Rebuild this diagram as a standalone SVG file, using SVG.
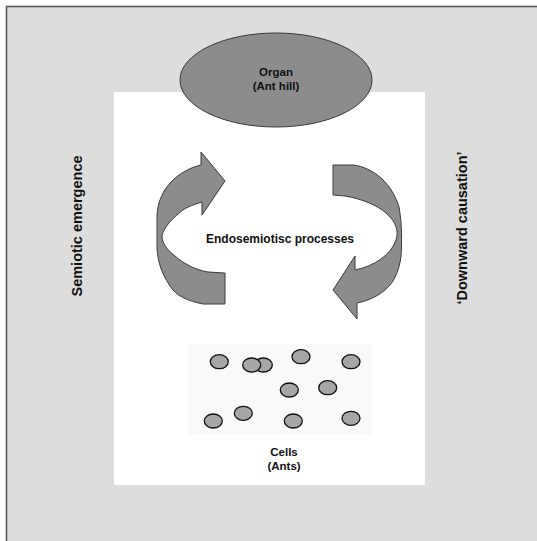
<svg xmlns="http://www.w3.org/2000/svg" width="537" height="541" viewBox="0 0 537 541">
<style>
.lbl{font-family:"Liberation Sans",Arial,sans-serif;font-weight:bold;fill:#111;text-anchor:middle}
.arrow{fill:#8c8c8c;stroke:#3a3a3a;stroke-width:1;stroke-linejoin:round}
.cell{fill:#a6a6a6;stroke:#111;stroke-width:1.3}
</style>
<g id="background">
<rect x="6.5" y="6.5" width="545" height="550" fill="#dcdddc" stroke="#5a5a5a" stroke-width="1.6"/>
<rect x="114" y="92" width="311" height="393" fill="#ffffff"/>
<rect x="188" y="344" width="184" height="91" fill="#f9f9f9"/>
</g>
<g id="organ">
<ellipse cx="276" cy="80" rx="96" ry="47" fill="#8c8c8c" stroke="#3a3a3a" stroke-width="1"/>
<text class="lbl" x="276" y="76" font-size="11.5">Organ</text>
<text class="lbl" x="276" y="90" font-size="11.5">(Ant hill)</text>
</g>
<g id="connectors">
<path id="emergence-arrow" class="arrow" d="M225,304 L203,304 C188,301 176,296 170,286 C160,271 157,258 157,245 L157,215 C158,201 163,190 172,181 C181,172 192,167 201,165 L201,152 L225,181 L202,215 L202,202 C192,205 184,208 178,214 C170,221 163,229 162,236 C162,243 167,250 175,256 C184,264 196,270 208,272 L225,273 Z"/>
<path id="causation-arrow" class="arrow" d="M333,165 L353,165 C363,166 373,171 381,178 C390,186 396,197 399,207 C402,223 402,242 401,257 C399,270 395,279 390,285 C383,293 372,300 357,303 L357,319 L333,290 L355,256 L355,270 C365,268 374,264 381,259 C389,253 395,246 397,236 C398,227 393,219 386,213 C377,205 362,199 345,196 L333,195 Z"/>
</g>
<g id="process-label">
<text class="lbl" x="280" y="243" font-size="12">Endosemiotisc processes</text>
</g>
<g id="semiotic-emergence">
<text class="lbl" font-size="14.5" transform="translate(82,226) rotate(-90)">Semiotic emergence</text>
</g>
<g id="downward-causation">
<text class="lbl" font-size="14.5" transform="translate(467,228) rotate(-90)">‘Downward causation’</text>
</g>
<g id="cells">
<ellipse class="cell" cx="219.3" cy="361.7" rx="9" ry="7"/>
<ellipse class="cell" cx="263.3" cy="365" rx="9" ry="7"/>
<ellipse class="cell" cx="251.7" cy="365" rx="9" ry="7"/>
<ellipse class="cell" cx="301" cy="356.7" rx="9" ry="7"/>
<ellipse class="cell" cx="351" cy="361.7" rx="9" ry="7"/>
<ellipse class="cell" cx="289.3" cy="390" rx="9" ry="7"/>
<ellipse class="cell" cx="327.7" cy="387.7" rx="9" ry="7"/>
<ellipse class="cell" cx="213.3" cy="421" rx="9" ry="7"/>
<ellipse class="cell" cx="243.3" cy="413.3" rx="9" ry="7"/>
<ellipse class="cell" cx="293.3" cy="421" rx="9" ry="7"/>
<ellipse class="cell" cx="351" cy="418.3" rx="9" ry="7"/>
<text class="lbl" x="284" y="456" font-size="11.5">Cells</text>
<text class="lbl" x="284" y="470" font-size="11.5">(Ants)</text>
</g>
</svg>
